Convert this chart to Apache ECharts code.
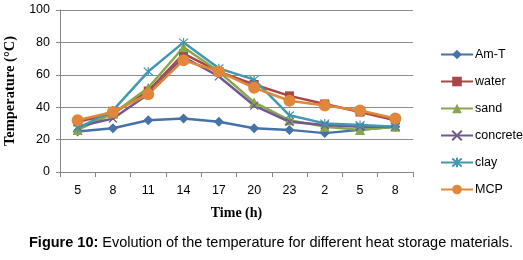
<!DOCTYPE html>
<html>
<head>
<meta charset="utf-8">
<script src="https://cdn.jsdelivr.net/npm/echarts@6/dist/echarts.min.js"></script>
<style>
  html, body { margin: 0; padding: 0; background: #fff; }
  #chart { width: 523px; height: 260px; }
</style>
</head>
<body>
<div id="chart"></div>
<script>
const hours = ['5', '8', '11', '14', '17', '20', '23', '2', '5', '8'];
const amT = [25, 27, 32, 33, 31, 27, 26, 24, 26, 28];
const water = [31, 36, 50, 73, 62, 54, 47, 42, 37, 32];
const sand = [26, 36, 52, 77, 62, 43, 32, 28, 26, 28];
const concrete = [28, 33, 48, 71, 59, 41, 31, 29, 28, 28];
const clay = [27, 38, 62, 80, 64, 57, 35, 30, 29, 28];
const mcp = [32, 37, 48, 69, 62, 52, 44, 41, 38, 33];

const crossPath = 'path://M0,0L10,10M10,0L0,10';
const starPath = 'path://M0,0L10,10M10,0L0,10M5,-1L5,11';

function line(name, data, color, symbol, size, hollow) {
    return {
        name: name,
        type: 'line',
        data: data,
        symbol: symbol,
        symbolSize: size,
        lineStyle: { color: color, width: 2.5 },
        itemStyle: hollow
            ? { color: color, borderColor: color, borderWidth: 1.2 }
            : { color: color },
        emphasis: { disabled: true },
        z: 2
    };
}

const myChart = echarts.init(document.getElementById('chart'));
myChart.setOption({
    animation: false,
    textStyle: { fontFamily: 'Liberation Sans, Arial, sans-serif' },
    grid: { left: 60, right: 110, top: 10, bottom: 88, containLabel: false, outerBoundsMode: 'none' },
    title: {
        text: '{b|Figure 10:} Evolution of the temperature for different heat storage materials.',
        left: 24,
        top: 230,
        textStyle: {
            fontSize: 14.5,
            fontWeight: 'normal',
            color: '#000',
            fontFamily: 'Liberation Sans, Arial, sans-serif',
            rich: {
                b: { fontSize: 14.5, fontWeight: 'bold', color: '#000', fontFamily: 'Liberation Sans, Arial, sans-serif' }
            }
        }
    },
    legend: {
        orient: 'vertical',
        left: 435,
        top: 43,
        itemGap: 14,
        itemWidth: 32,
        itemHeight: 12,
        textStyle: { fontSize: 12.5, color: '#000', padding: [0, 0, 0, -3] },
        data: ['Am-T', 'water', 'sand', 'concrete', 'clay', 'MCP']
    },
    xAxis: {
        type: 'category',
        data: hours,
        boundaryGap: true,
        name: 'Time (h)',
        nameLocation: 'middle',
        nameGap: 34,
        nameTextStyle: { fontFamily: 'Liberation Serif, Times New Roman, serif', fontWeight: 'bold', fontSize: 14, color: '#000' },
        axisLine: { lineStyle: { color: '#868686', width: 1 } },
        axisTick: { show: true, alignWithLabel: false, length: 5, lineStyle: { color: '#868686' } },
        axisLabel: { fontSize: 12.5, color: '#000', margin: 12 },
        splitLine: { show: false }
    },
    yAxis: {
        type: 'value',
        min: 0,
        max: 100,
        interval: 20,
        name: 'Temperature (°C)',
        nameLocation: 'middle',
        nameGap: 34,
        nameTextStyle: { fontFamily: 'Liberation Serif, Times New Roman, serif', fontWeight: 'bold', fontSize: 14.5, color: '#000' },
        axisLine: { show: true, lineStyle: { color: '#868686', width: 1 } },
        axisTick: { show: true, length: 4, lineStyle: { color: '#868686' } },
        axisLabel: { fontSize: 12.5, color: '#000', margin: 10 },
        splitLine: { lineStyle: { color: '#8c8c8c', width: 1 } }
    },
    series: [
        line('Am-T', amT, '#4572A7', 'diamond', 10, false),
        line('water', water, '#AA4643', 'rect', 9, false),
        line('sand', sand, '#89A54E', 'triangle', 10, false),
        line('concrete', concrete, '#71588F', crossPath, 8, true),
        line('clay', clay, '#4198AF', starPath, 9, true),
        line('MCP', mcp, '#E0873B', 'circle', 12, false)
    ]
});
</script>
</body>
</html>
